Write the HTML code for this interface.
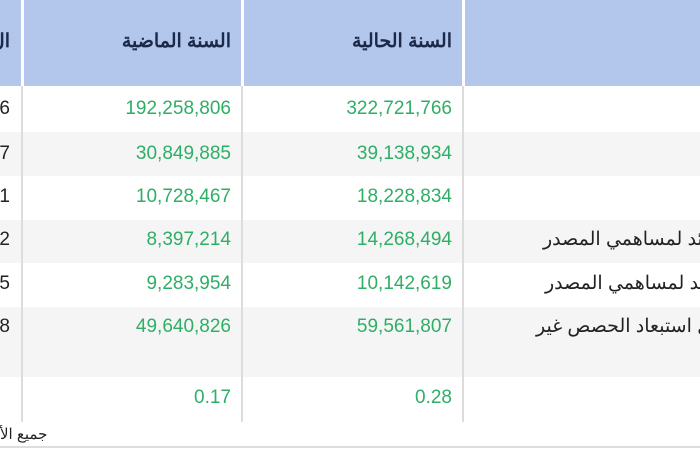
<!DOCTYPE html>
<html><head><meta charset="utf-8"><style>
html,body{margin:0;padding:0;width:700px;height:450px;overflow:hidden;background:#fff;position:relative;font-family:"Liberation Sans","Noto Sans CJK SC",sans-serif}
.a{position:absolute}
.hdr{top:0;height:86px;background:#b3c6ec}
.row{left:0;width:700px}
.g{background:#f5f5f5}
.vl{width:2px;background:#dcdcdc;top:86px;height:336px}
.hv{width:3px;background:#fff;top:0;height:86px}
.t{font-size:19px;white-space:nowrap;line-height:22px}
.n{color:#2fae66;text-align:right}
.h{color:#1b2a4a;font-weight:bold;font-size:19px}
.d{color:#222}
</style></head><body>
<div class="a hdr" style="left:0;width:700px"></div>
<div class="a hv" style="left:21px"></div>
<div class="a hv" style="left:241px"></div>
<div class="a hv" style="left:462px"></div>

<div class="a row" style="top:86px;height:46px"></div>
<div class="a row g" style="top:132px;height:44px"></div>
<div class="a row" style="top:176px;height:44px"></div>
<div class="a row g" style="top:220px;height:43px"></div>
<div class="a row" style="top:263px;height:44px"></div>
<div class="a row g" style="top:307px;height:70px"></div>
<div class="a row" style="top:377px;height:45px"></div>

<div class="a vl" style="left:21px"></div>
<div class="a vl" style="left:241px"></div>
<div class="a vl" style="left:462px"></div>

<div class="a t h" style="right:690px;top:31px;text-align:right">ال</div>
<div class="a t h" style="right:469px;top:31px">السنة الماضية</div>
<div class="a t h" style="right:248px;top:31px">السنة الحالية</div>

<div class="a t d" style="right:690px;top:98px">6</div>
<div class="a t d" style="right:690px;top:143px">7</div>
<div class="a t d" style="right:690px;top:186px">1</div>
<div class="a t d" style="right:690px;top:229px">2</div>
<div class="a t d" style="right:690px;top:273px">5</div>
<div class="a t d" style="right:690px;top:316px">8</div>

<div class="a t n" style="right:469px;top:98px">192,258,806</div>
<div class="a t n" style="right:469px;top:143px">30,849,885</div>
<div class="a t n" style="right:469px;top:186px">10,728,467</div>
<div class="a t n" style="right:469px;top:229px">8,397,214</div>
<div class="a t n" style="right:469px;top:273px">9,283,954</div>
<div class="a t n" style="right:469px;top:316px">49,640,826</div>
<div class="a t n" style="right:469px;top:387px">0.17</div>

<div class="a t n" style="right:248px;top:98px">322,721,766</div>
<div class="a t n" style="right:248px;top:143px">39,138,934</div>
<div class="a t n" style="right:248px;top:186px">18,228,834</div>
<div class="a t n" style="right:248px;top:229px">14,268,494</div>
<div class="a t n" style="right:248px;top:273px">10,142,619</div>
<div class="a t n" style="right:248px;top:316px">59,561,807</div>
<div class="a t n" style="right:248px;top:387px">0.28</div>

<div class="a t d" style="left:543px;top:229px">ئد لمساهمي المصدر</div>
<div class="a t d" style="left:545px;top:273px">ئد لمساهمي المصدر</div>
<div class="a t d" style="left:536px;top:316px">ل استبعاد الحصص غير</div>

<div class="a t d" style="left:0;top:424px;font-size:15px">جميع الأ</div>
<div class="a" style="left:0;top:446px;width:700px;height:2px;background:#ddd"></div>
</body></html>
